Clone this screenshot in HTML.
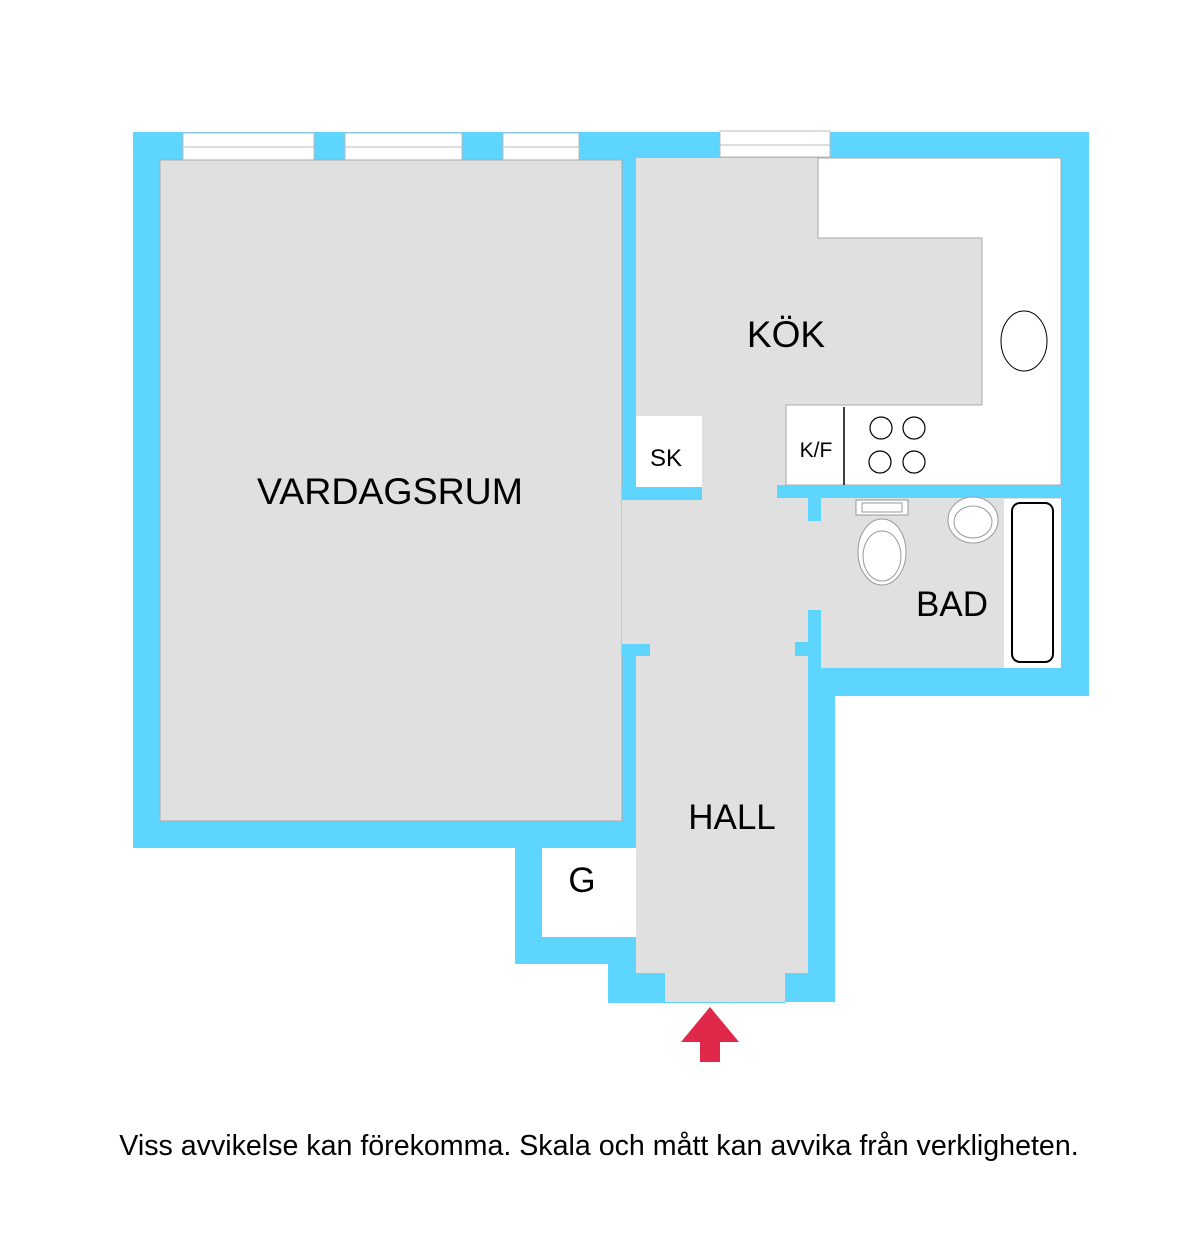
<!DOCTYPE html>
<html><head><meta charset="utf-8"><style>
html,body{margin:0;padding:0;background:#fff;}
svg{display:block;}
text{font-family:"Liberation Sans",sans-serif;fill:#000;}
</style></head><body>
<svg width="1200" height="1239" viewBox="0 0 1200 1239">
<polygon fill="#5ed5fe" points="133,132 1089,132 1089,696 835,696 835,1002 785,1002 785,1003 608,1003 608,964 515,964 515,848 133,848"/>
<g fill="#fff" stroke="#bbb" stroke-width="1">
<rect x="183" y="133" width="131" height="27"/><line x1="183" y1="147" x2="314" y2="147"/>
<rect x="345" y="133" width="117" height="27"/><line x1="345" y1="147" x2="462" y2="147"/>
<rect x="503" y="133" width="76" height="27"/><line x1="503" y1="147" x2="579" y2="147"/>
<rect x="720" y="131" width="110" height="26"/><line x1="720" y1="145" x2="830" y2="145"/>
</g>
<rect x="160" y="160" width="462" height="661" fill="#e0e0e0" stroke="#aaa" stroke-width="1"/>
<rect x="636" y="158" width="425" height="510" fill="#e0e0e0"/>
<polygon fill="#fff" stroke="#aaa" stroke-width="1" points="818,158 1061,158 1061,485 786,485 786,405 982,405 982,238 818,238"/>
<rect x="636" y="416" width="66" height="71" fill="#fff"/>
<line x1="844" y1="407" x2="844" y2="485" stroke="#000" stroke-width="1.5"/>
<ellipse cx="1024" cy="341" rx="23" ry="30" fill="#fff" stroke="#000" stroke-width="1"/>
<g fill="none" stroke="#000" stroke-width="1.2">
<circle cx="881" cy="428" r="11"/><circle cx="914" cy="428" r="11"/>
<circle cx="880" cy="462" r="11"/><circle cx="914" cy="462" r="11"/>
</g>
<g fill="#5ed5fe">
<rect x="777" y="485" width="284" height="13"/>
<rect x="808" y="498" width="13" height="23"/>
<rect x="808" y="610" width="13" height="58"/>
<rect x="795" y="642" width="13" height="14"/>
<rect x="622" y="487" width="80" height="13"/>
<rect x="622" y="644" width="28" height="12"/>
</g>
<rect x="622" y="500" width="14" height="144" fill="#e0e0e0"/>
<rect x="636" y="656" width="172" height="317" fill="#e0e0e0"/>
<rect x="665" y="970" width="120" height="32" fill="#e0e0e0"/>
<rect x="542" y="848" width="94" height="89" fill="#fff"/>
<rect x="856" y="500" width="52" height="15" fill="#fff" stroke="#999"/>
<rect x="862" y="503" width="40" height="9" fill="#fff" stroke="#999"/>
<ellipse cx="882" cy="552" rx="24" ry="33" fill="#fff" stroke="#999"/>
<ellipse cx="882" cy="556" rx="19" ry="25" fill="#fff" stroke="#999"/>
<ellipse cx="973" cy="520" rx="25" ry="23" fill="#fff" stroke="#999"/>
<ellipse cx="973" cy="522" rx="19" ry="16" fill="none" stroke="#999"/>
<rect x="1004" y="499" width="57" height="169" fill="#fff"/>
<rect x="1012" y="503" width="41" height="159" rx="8" fill="#fff" stroke="#000" stroke-width="2"/>
<polygon fill="#e0284a" points="710,1007 739,1042 720,1042 720,1062 700,1062 700,1042 681,1042"/>
<text x="390" y="504" font-size="37.5" text-anchor="middle">VARDAGSRUM</text>
<text x="786" y="347" font-size="37" text-anchor="middle">KÖK</text>
<text x="666" y="466" font-size="24" text-anchor="middle" font-family="DejaVu Sans">SK</text>
<text x="816" y="457" font-size="21" text-anchor="middle" font-family="DejaVu Sans">K/F</text>
<text x="952" y="616" font-size="35" text-anchor="middle">BAD</text>
<text x="732" y="829" font-size="35" text-anchor="middle">HALL</text>
<text x="582" y="892" font-size="35" text-anchor="middle">G</text>
<text x="599" y="1155" font-size="28.6" text-anchor="middle">Viss avvikelse kan förekomma. Skala och mått kan avvika från verkligheten.</text>
</svg>
</body></html>
